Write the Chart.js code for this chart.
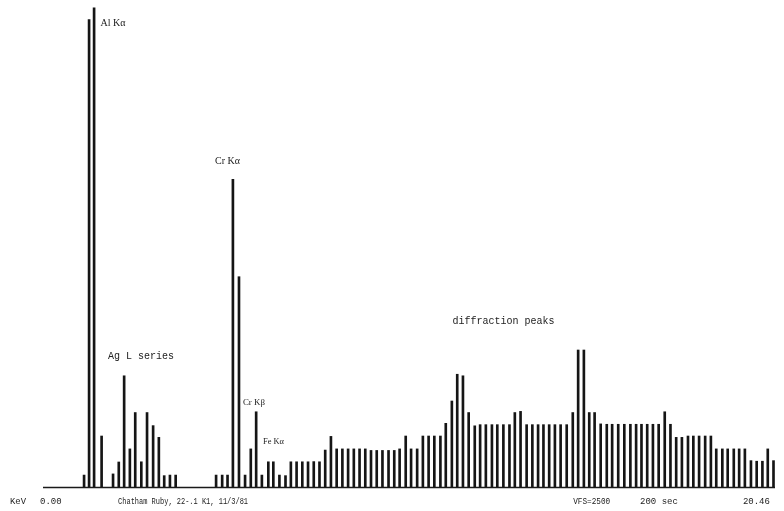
<!DOCTYPE html>
<html>
<head>
<meta charset="utf-8">
<script src="https://cdn.jsdelivr.net/npm/chart.js@4.4.1/dist/chart.umd.min.js"></script>
<style>
  html, body { margin: 0; padding: 0; background: #fff; }
  #wrap { width: 784px; height: 511px; }
</style>
</head>
<body>
<div id="wrap"><canvas id="spectrum" width="784" height="511"></canvas></div>
<script>
// EDS spectrum, Chatham ruby. Channel energy (keV) and counts.
const energies = [
    1.12, 1.26, 1.40, 1.61, 1.93, 2.09, 2.24, 2.40, 2.55, 2.72,
    2.88, 3.05, 3.21, 3.36, 3.52, 3.68,
    4.81, 4.98, 5.13, 5.28, 5.45, 5.62, 5.78, 5.93, 6.09, 6.27,
    6.41, 6.58, 6.75, 6.90, 7.06, 7.22, 7.38, 7.54, 7.70, 7.86,
    8.02, 8.18, 8.34, 8.50, 8.66, 8.82, 8.98, 9.14, 9.30, 9.46,
    9.63, 9.79, 9.94, 10.11, 10.26, 10.43, 10.59, 10.75, 10.91, 11.08,
    11.23, 11.40, 11.55, 11.71, 11.87, 12.04, 12.19, 12.35, 12.52, 12.67,
    12.84, 13.01, 13.16, 13.32, 13.49, 13.65, 13.81, 13.96, 14.12, 14.28,
    14.44, 14.61, 14.78, 14.93, 15.09, 15.24, 15.39, 15.56, 15.73, 15.88,
    16.05, 16.22, 16.39, 16.55, 16.70, 16.86, 17.02, 17.18, 17.35, 17.51,
    17.67, 17.83, 18.00, 18.15, 18.31, 18.48, 18.64, 18.79, 18.96, 19.11,
    19.28, 19.43, 19.59, 19.76, 19.92, 20.08, 20.23, 20.39
];
const counts = [
    62, 2430, 2490, 265, 68, 130, 578, 198, 387, 131,
    387, 319, 258, 59, 62, 62,
    62, 62, 62, 1599, 1093, 62, 198, 391, 62, 131,
    131, 62, 59, 131, 131, 131, 131, 132, 131, 192,
    263, 198, 198, 198, 198, 198, 198, 190, 190, 190,
    190, 190, 198, 265, 198, 198, 265, 265, 265, 265,
    331, 447, 586, 578, 387, 318, 324, 324, 324, 324,
    324, 324, 387, 393, 324, 324, 324, 324, 324, 324,
    324, 324, 387, 712, 712, 387, 387, 328, 326, 326,
    326, 326, 326, 326, 326, 326, 326, 326, 391, 326,
    258, 258, 265, 265, 265, 265, 265, 198, 198, 198,
    198, 198, 198, 137, 134, 134, 198, 137
];

const FULL_SCALE = 2500;   // VFS=2500
const E_MAX = 20.46;

// peak annotations, anchored in data units (keV, counts)
const peakLabels = [
    { text: 'Al Kα', keV: 1.58, cts: 2410, size: 10, maxW: 25, font: 'Liberation Serif' },
    { text: 'Cr Kα', keV: 4.78, cts: 1694, size: 10, maxW: 32, font: 'Liberation Serif' },
    { text: 'Ag L series', keV: 1.79, cts: 681, size: 10, maxW: 70, font: 'Liberation Mono' },
    { text: 'Cr Kβ', keV: 5.56, cts: 439, size: 9, maxW: 22, font: 'Liberation Serif' },
    { text: 'Fe Kα', keV: 6.12, cts: 234, size: 9, maxW: 21, font: 'Liberation Serif' },
    { text: 'diffraction peaks', keV: 11.42, cts: 863, size: 10, maxW: 106, font: 'Liberation Mono' }
];

// line typed under the spectrum
const footerLabels = [
    { text: 'KeV', keV: -0.95, align: 'left', maxW: 16 },
    { text: '0.00', keV: -0.11, align: 'left', maxW: 23 },
    { text: 'Chatham Ruby, 22-.1 K1, 11/3/81', keV: 2.07, align: 'left', maxW: 130 },
    { text: 'VFS=2500', keV: 14.79, align: 'left', maxW: 37 },
    { text: '200 sec', keV: 16.66, align: 'left', maxW: 40 },
    { text: '20.46', keV: 20.29, align: 'right', maxW: 30 }
];

const spectrumText = {
    id: 'spectrumText',
    afterDatasetsDraw(chart) {
        const ctx = chart.ctx;
        const x = chart.scales.x;
        const y = chart.scales.y;
        const area = chart.chartArea;

        ctx.save();
        // baseline
        ctx.strokeStyle = '#1a1a1a';
        ctx.lineWidth = 1.5;
        ctx.beginPath();
        ctx.moveTo(area.left - 1, area.bottom + 0.5);
        ctx.lineTo(area.right - 1, area.bottom + 0.5);
        ctx.stroke();

        ctx.fillStyle = '#222';
        ctx.textBaseline = 'middle';

        peakLabels.forEach(l => {
            ctx.font = l.size + 'px "' + l.font + '"';
            ctx.textAlign = 'left';
            ctx.fillText(l.text, x.getPixelForValue(l.keV), y.getPixelForValue(l.cts), l.maxW);
        });

        ctx.font = '9px "Liberation Mono"';
        footerLabels.forEach(l => {
            ctx.textAlign = l.align;
            ctx.fillText(l.text, x.getPixelForValue(l.keV), area.bottom + 15, l.maxW);
        });
        ctx.restore();
    }
};

new Chart(document.getElementById('spectrum'), {
    type: 'bar',
    data: {
        datasets: [{
            data: energies.map((e, i) => ({ x: e, y: counts[i] })),
            backgroundColor: '#151515',
            borderWidth: 0,
            barThickness: 2
        }]
    },
    options: {
        responsive: false,
        animation: false,
        layout: { padding: { left: 44, right: 8, top: 6, bottom: 24 } },
        scales: {
            x: { type: 'linear', min: 0, max: E_MAX, offset: false, display: false },
            y: { min: 0, max: FULL_SCALE, display: false }
        },
        plugins: {
            legend: { display: false },
            tooltip: { enabled: false }
        }
    },
    plugins: [spectrumText]
});
</script>
</body>
</html>
